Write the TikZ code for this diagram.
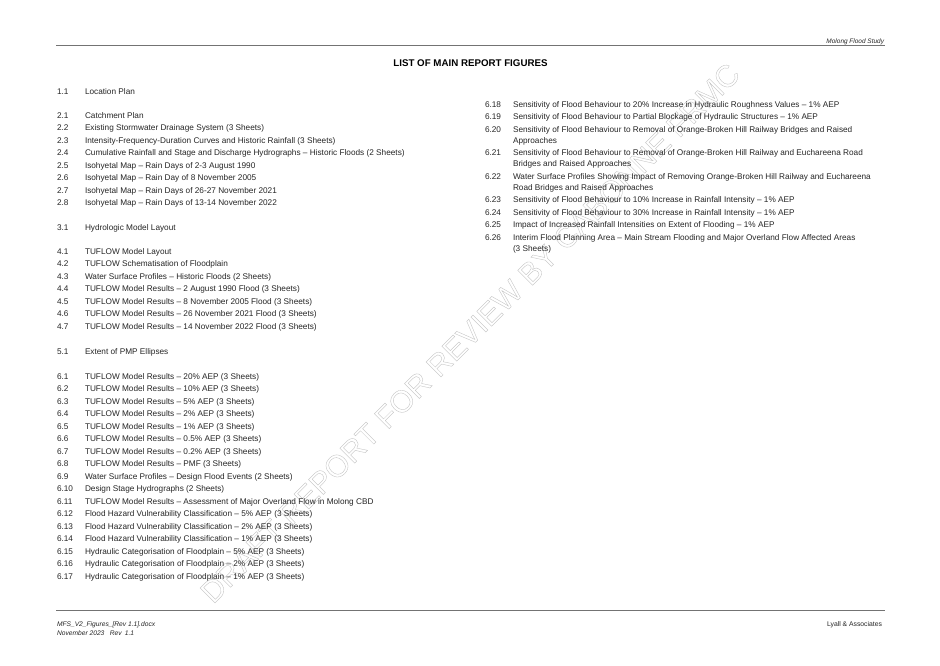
\documentclass[tikz,border=0pt]{standalone}
\usepackage{fontspec}
\setmainfont{Liberation Sans}
\tikzset{x=0.75pt,y=-0.75pt,
  item/.style={anchor=base west,inner sep=0pt,outer sep=0pt,font=\fontsize{6.18}{8}\selectfont,text=black!85},
  foot/.style={item,font=\fontsize{5.0}{7}\selectfont\itshape},
  rulegray/.style={draw=black!55,line width=0.75pt},
  wmark/.style={anchor=center,inner sep=0pt,font=\fontsize{23}{30}\selectfont}}
\newcommand{\lrow}[4]{\node[item] (n#1) at (57,#2) {#3};\node[item] (t#1) at (85,#2) {#4};}
\newcommand{\rrow}[4]{\node[item] (n#1) at (485,#2) {#3};\node[item] (t#1) at (513,#2) {#4};}
\newcommand{\rcont}[3]{\node[item] (c#1) at (513,#2) {#3};}
\begin{document}
\begin{tikzpicture}
\useasboundingbox (0,0) rectangle (940,665);
\fill[white] (0,0) rectangle (940,665);
% watermark
\node[wmark,rotate=45] (wm) at (470,333) {\special{pdf:code q 1 Tr 0.25 w 0.75 G}DRAFT REPORT FOR REVIEW BY CABONNE FRMC\special{pdf:code Q}};
% rules
\coordinate (tl) at (56,45); \coordinate (tr) at (885,45);
\coordinate (bl) at (56,610); \coordinate (br) at (885,610);
\draw[rulegray] (tl) -- (tr);
\draw[rulegray] (bl) -- (br);
% header
\node[foot,anchor=base east,font=\fontsize{4.85}{7}\selectfont\itshape] (hdr) at (884,43) {Molong Flood Study};
\node[item,anchor=base,font=\fontsize{7.3}{9}\selectfont\bfseries,text=black] (title) at (470.5,66) {LIST OF MAIN REPORT FIGURES};
% left column
\lrow{a}{94}{1.1}{Location Plan}
\lrow{b}{118}{2.1}{Catchment Plan}
\lrow{c}{130.5}{2.2}{Existing Stormwater Drainage System (3 Sheets)}
\lrow{d}{143}{2.3}{Intensity-Frequency-Duration Curves and Historic Rainfall (3 Sheets)}
\lrow{e}{155.5}{2.4}{Cumulative Rainfall and Stage and Discharge Hydrographs – Historic Floods (2 Sheets)}
\lrow{f}{168}{2.5}{Isohyetal Map – Rain Days of 2-3 August 1990}
\lrow{g}{180.5}{2.6}{Isohyetal Map – Rain Day of 8 November 2005}
\lrow{h}{193}{2.7}{Isohyetal Map – Rain Days of 26-27 November 2021}
\lrow{i}{205.5}{2.8}{Isohyetal Map – Rain Days of 13-14 November 2022}
\lrow{j}{230}{3.1}{Hydrologic Model Layout}
\lrow{k}{254}{4.1}{TUFLOW Model Layout}
\lrow{l}{266.5}{4.2}{TUFLOW Schematisation of Floodplain}
\lrow{m}{279}{4.3}{Water Surface Profiles – Historic Floods (2 Sheets)}
\lrow{o}{291.5}{4.4}{TUFLOW Model Results – 2 August 1990 Flood (3 Sheets)}
\lrow{p}{304}{4.5}{TUFLOW Model Results – 8 November 2005 Flood (3 Sheets)}
\lrow{q}{316.5}{4.6}{TUFLOW Model Results – 26 November 2021 Flood (3 Sheets)}
\lrow{r}{329}{4.7}{TUFLOW Model Results – 14 November 2022 Flood (3 Sheets)}
\lrow{s}{354}{5.1}{Extent of PMP Ellipses}
\lrow{t}{379}{6.1}{TUFLOW Model Results – 20\% AEP (3 Sheets)}
\lrow{u}{391.5}{6.2}{TUFLOW Model Results – 10\% AEP (3 Sheets)}
\lrow{v}{404}{6.3}{TUFLOW Model Results – 5\% AEP (3 Sheets)}
\lrow{w}{416.5}{6.4}{TUFLOW Model Results – 2\% AEP (3 Sheets)}
\lrow{x}{429}{6.5}{TUFLOW Model Results – 1\% AEP (3 Sheets)}
\lrow{y}{441.5}{6.6}{TUFLOW Model Results – 0.5\% AEP (3 Sheets)}
\lrow{z}{454}{6.7}{TUFLOW Model Results – 0.2\% AEP (3 Sheets)}
\lrow{aa}{466.5}{6.8}{TUFLOW Model Results – PMF (3 Sheets)}
\lrow{ab}{479}{6.9}{Water Surface Profiles – Design Flood Events (2 Sheets)}
\lrow{ac}{491.5}{6.10}{Design Stage Hydrographs (2 Sheets)}
\lrow{ad}{504}{6.11}{TUFLOW Model Results – Assessment of Major Overland Flow in Molong CBD}
\lrow{ae}{516.5}{6.12}{Flood Hazard Vulnerability Classification – 5\% AEP (3 Sheets)}
\lrow{af}{529}{6.13}{Flood Hazard Vulnerability Classification – 2\% AEP (3 Sheets)}
\lrow{ag}{541.5}{6.14}{Flood Hazard Vulnerability Classification – 1\% AEP (3 Sheets)}
\lrow{ah}{554}{6.15}{Hydraulic Categorisation of Floodplain – 5\% AEP (3 Sheets)}
\lrow{ai}{566.5}{6.16}{Hydraulic Categorisation of Floodplain – 2\% AEP (3 Sheets)}
\lrow{aj}{579}{6.17}{Hydraulic Categorisation of Floodplain – 1\% AEP (3 Sheets)}
% right column
\rrow{ba}{107}{6.18}{Sensitivity of Flood Behaviour to 20\% Increase in Hydraulic Roughness Values – 1\% AEP}
\rrow{bb}{119.5}{6.19}{Sensitivity of Flood Behaviour to Partial Blockage of Hydraulic Structures – 1\% AEP}
\rrow{bc}{132}{6.20}{Sensitivity of Flood Behaviour to Removal of Orange-Broken Hill Railway Bridges and Raised}
\rcont{bc}{143}{Approaches}
\rrow{bd}{155.5}{6.21}{Sensitivity of Flood Behaviour to Removal of Orange-Broken Hill Railway and Euchareena Road}
\rcont{bd}{166.5}{Bridges and Raised Approaches}
\rrow{be}{179}{6.22}{Water Surface Profiles Showing Impact of Removing Orange-Broken Hill Railway and Euchareena}
\rcont{be}{190}{Road Bridges and Raised Approaches}
\rrow{bf}{202.5}{6.23}{Sensitivity of Flood Behaviour to 10\% Increase in Rainfall Intensity – 1\% AEP}
\rrow{bg}{215}{6.24}{Sensitivity of Flood Behaviour to 30\% Increase in Rainfall Intensity – 1\% AEP}
\rrow{bh}{227.5}{6.25}{Impact of Increased Rainfall Intensities on Extent of Flooding – 1\% AEP}
\rrow{bi}{240}{6.26}{Interim Flood Planning Area – Main Stream Flooding and Major Overland Flow Affected Areas}
\rcont{bi}{251}{(3 Sheets)}
% footer
\node[foot] (f1) at (57,626) {MFS\_V2\_Figures\_[Rev 1.1].docx};
\node[foot] (f2) at (57,635.5) {November 2023\hspace{0.8em}Rev\hspace{0.5em}1.1};
\node[item,anchor=base east,font=\fontsize{5.1}{7}\selectfont] (f3) at (882,626) {Lyall \& Associates};
\end{tikzpicture}
\end{document}
